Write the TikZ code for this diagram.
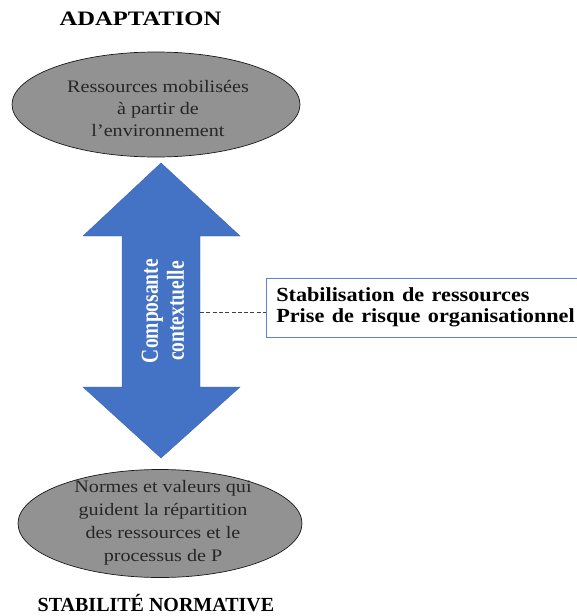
\documentclass[tikz,border=0pt]{standalone}
\usepackage{fontspec}
\usepackage{graphicx}
\setmainfont{Liberation Serif}
\usetikzlibrary{shapes.geometric}
\definecolor{arrowblue}{HTML}{4472C4}
\definecolor{arrowedge}{HTML}{3A63AE}
\definecolor{ovalgray}{HTML}{929292}
\definecolor{boxblue}{HTML}{5B85D0}
% horizontally widened text
\newcommand{\widetext}[2]{\scalebox{#1}[1]{#2}}
% text widened across its lines (for the rotated label)
\newcommand{\tallglyphs}[2]{\scalebox{1}[#1]{#2}}
\begin{document}
\begin{tikzpicture}[x=1pt,y=-1pt,
  title/.style={font=\bfseries\fontsize{20.5}{24}\selectfont, inner sep=0pt, anchor=base},
  oval/.style={draw=black!90, line width=0.7pt, fill=ovalgray, ellipse, inner sep=0pt},
  ovaltext/.style={align=center, font=\fontsize{17.5}{21.8}\selectfont, text=black!85, inner sep=0pt},
  labelbox/.style={draw=boxblue, line width=0.6pt, fill=white, align=left,
    font=\bfseries\fontsize{20}{21.5}\selectfont, inner xsep=10pt, inner ysep=0pt,
    minimum width=311pt, minimum height=59pt, text width=291pt},
  arrowtext/.style={text=white, align=center, rotate=90, inner sep=0pt,
    font=\bfseries\fontsize{19.5}{22}\selectfont},
  linkline/.style={black!75, line width=0.6pt, dash pattern=on 4pt off 2.3pt}]
  \useasboundingbox (0,0) rectangle (577,616);

  % headings
  \node[title] (adapt) at (140.5,25.7) {\widetext{1.2}{ADAPTATION}};
  \node[title, font=\bfseries\fontsize{20}{24}\selectfont] (stab) at (156,611) {STABILITÉ NORMATIVE};

  % double-headed vertical arrow
  \filldraw[fill=arrowblue, draw=arrowedge, line width=0.4pt]
    (161,163) -- (240,236) -- (200,236) -- (200,387)
    -- (240,387) -- (161,458) -- (83,387) -- (122,387) -- (122,236)
    -- (83,236) -- cycle;
  \node[arrowtext] (comp) at (163,311)
    {\tallglyphs{1.25}{Composante}\\[3pt]\tallglyphs{1.25}{contextuelle}};
  \coordinate (shaft) at (200,312);

  % ovals
  \node[oval, minimum width=288pt, minimum height=105pt] (top) at (156,104.5) {};
  \node[ovaltext] (toptext) at (158,108.5)
    {\widetext{1.15}{Ressources mobilisées}\\\widetext{1.15}{à partir de}\\\widetext{1.15}{l’environnement}};
  \node[oval, minimum width=284pt, minimum height=108pt] (bot) at (160,523.5) {};
  \node[ovaltext, font=\fontsize{17.5}{23}\selectfont] (bottext) at (163,523)
    {\widetext{1.15}{Normes et valeurs qui}\\\widetext{1.15}{guident la répartition}\\\widetext{1.15}{des ressources et le}\\\widetext{1.15}{processus de P}};

  % side label
  \node[labelbox, anchor=west] (label) at (266,307.5)
    {\widetext{1.11}{Stabilisation de ressources}\\\widetext{1.11}{Prise de risque organisationnel}};
  \draw[linkline] (shaft) -- (label.west |- shaft);
\end{tikzpicture}
\end{document}
